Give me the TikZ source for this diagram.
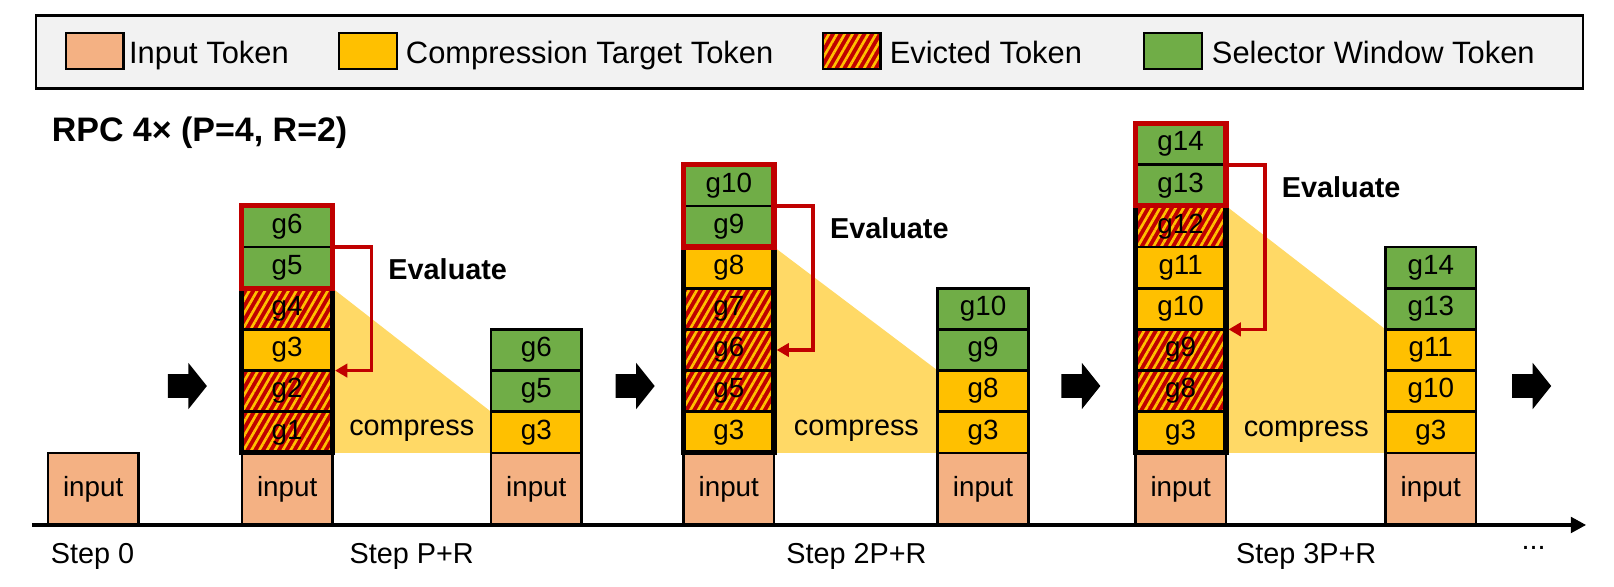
\documentclass[tikz,border=0pt]{standalone}
\usepackage{fontspec}
\setmainfont{Liberation Sans}
\usetikzlibrary{arrows.meta,patterns.meta,backgrounds,positioning}

\definecolor{inputc}{HTML}{F4B183}
\definecolor{targetc}{HTML}{FFC000}
\definecolor{selc}{HTML}{70AD47}
\definecolor{evictc}{HTML}{C00000}
\definecolor{comprc}{HTML}{FFD966}
\definecolor{legbg}{HTML}{F2F2F2}

\tikzset{
  cell/.style={draw=black, line width=1.3pt, minimum width=44pt, minimum height=20pt,
    inner sep=0pt, outer sep=0pt, font=\fontsize{13.5}{16}\selectfont},
  inp/.style={cell, fill=inputc, minimum height=35pt},
  tgt/.style={cell, fill=targetc},
  sel/.style={cell, fill=selc},
  evc/.style={cell, preaction={fill=evictc},
    pattern={Lines[angle=60,distance=3.3pt,line width=1.3pt]}, pattern color=targetc},
  swatch/.style={line width=1.1pt, minimum width=28pt, minimum height=17.5pt},
  legtxt/.style={anchor=base west, inner sep=0pt, font=\fontsize{15}{18}\selectfont},
  selframe/.style={draw=evictc, line width=2.5pt},
  cmpframe/.style={draw=black, line width=2.5pt},
  evalarrow/.style={draw=evictc, line width=1.8pt, shorten >=1.25pt,
    -{Triangle[length=6pt,width=6.5pt]}},
  evaltxt/.style={anchor=base west, inner sep=0pt, font=\bfseries\fontsize{14}{17}\selectfont},
  lbl/.style={anchor=base, font=\fontsize{14}{17}\selectfont},
  axis/.style={line width=2pt, -{Triangle[length=7.5pt,width=7.5pt]}},
}

\begin{document}
\begin{tikzpicture}[x=0.5pt,y=-0.5pt]
  \useasboundingbox (0,0) rectangle (1568,570);

  % legend
  \draw[fill=legbg, line width=1.1pt] (35,15) rectangle (1538,86);
  \node[inp, swatch] (k1) at (92,49.5) {};
  \node[legtxt] (t1) at (125,61.5) {Input Token};
  \node[tgt, swatch] (k2) at (357.5,49.5) {};
  \node[legtxt] (t2) at (394,61.5) {Compression Target Token};
  \node[evc, swatch] (k3) at (827.5,49.5) {};
  \node[legtxt] (t3) at (864,61.5) {Evicted Token};
  \node[sel, swatch] (k4) at (1139.5,49.5) {};
  \node[legtxt] (t4) at (1177,61.5) {Selector Window Token};

  \node[anchor=base west, inner sep=0pt, font=\bfseries\fontsize{16.5}{20}\selectfont] (title)
    at (50,137) {RPC 4× (P=4, R=2)};

  % step 0
  \node[inp] (in0) at (90.5,475) {input};

  % step P+R
  \node[inp] (in1) at (279,475) {input};
  \foreach \st/\lab [count=\i] in {evc/g1,evc/g2,tgt/g3,evc/g4,sel/g5,sel/g6}
    \node[\st] (s1c\i) at (279,{460-40*\i}) {\lab};
  \node[inp] (in2) at (521,475) {input};
  \foreach \st/\lab [count=\i] in {tgt/g3,sel/g5,sel/g6}
    \node[\st] (s2c\i) at (521,{460-40*\i}) {\lab};

  % step 2P+R
  \node[inp] (in3) at (708,475) {input};
  \foreach \st/\lab [count=\i] in {tgt/g3,evc/g5,evc/g6,evc/g7,tgt/g8,sel/g9,sel/g10}
    \node[\st] (s3c\i) at (708,{460-40*\i}) {\lab};
  \node[inp] (in4) at (955,475) {input};
  \foreach \st/\lab [count=\i] in {tgt/g3,tgt/g8,sel/g9,sel/g10}
    \node[\st] (s4c\i) at (955,{460-40*\i}) {\lab};

  % step 3P+R
  \node[inp] (in5) at (1147,475) {input};
  \foreach \st/\lab [count=\i] in {tgt/g3,evc/g8,evc/g9,tgt/g10,tgt/g11,evc/g12,sel/g13,sel/g14}
    \node[\st] (s5c\i) at (1147,{460-40*\i}) {\lab};
  \node[inp] (in6) at (1390,475) {input};
  \foreach \st/\lab [count=\i] in {tgt/g3,tgt/g10,tgt/g11,sel/g13,sel/g14}
    \node[\st] (s6c\i) at (1390,{460-40*\i}) {\lab};

  % compress areas
  \begin{scope}[on background layer]
    \fill[comprc] (s1c4.north east) -- (s2c1.north west) -- (s2c1.south west) -- (s1c1.south east) -- cycle;
    \fill[comprc] (s3c5.north east) -- (s4c2.north west) -- (s4c1.south west) -- (s3c1.south east) -- cycle;
    \fill[comprc] (s5c6.north east) -- (s6c3.north west) -- (s6c1.south west) -- (s5c1.south east) -- cycle;
  \end{scope}
  \node[lbl] (cp1) at (400,423) {compress};
  \node[lbl] (cp2) at (832,423) {compress};
  \node[lbl] (cp3) at (1269,424) {compress};

  % frames
  \draw[cmpframe] (s1c1.south west) rectangle (s1c4.north east);
  \draw[selframe] (s1c5.south west) rectangle (s1c6.north east);
  \draw[cmpframe] (s3c1.south west) rectangle (s3c5.north east);
  \draw[selframe] (s3c6.south west) rectangle (s3c7.north east);
  \draw[cmpframe] (s5c1.south west) rectangle (s5c6.north east);
  \draw[selframe] (s5c7.south west) rectangle (s5c8.north east);

  % evaluate
  \draw[evalarrow] (s1c5.north east) -- ++(38,0) coordinate (e1) |- (s1c3.south east);
  \node[evaltxt] (ev1) at ([shift={(16,32)}]e1) {Evaluate};
  \draw[evalarrow] (s3c6.north east) -- ++(38,0) coordinate (e2) |- (s3c3.east);
  \node[evaltxt] (ev2) at ([shift={(16,32)}]e2) {Evaluate};
  \draw[evalarrow] (s5c7.north east) -- ++(38,0) coordinate (e3) |- (s5c4.south east);
  \node[evaltxt] (ev3) at ([shift={(16,32)}]e3) {Evaluate};

  % step arrows
  \foreach \x in {182,617,1050,1488}
    \fill (\x-19,363.5) -- ++(20,0) -- ++(0,-11) -- ++(18,22.5) -- ++(-18,22.5)
      -- ++(0,-11) -- ++(-20,0) -- cycle;

  % time axis
  \coordinate (ax0) at (31,510);
  \coordinate (ax1) at (1541,510);
  \draw[axis] (ax0) -- (ax1);
  \node[lbl] (st0) at (90,547) {Step 0};
  \node[lbl] (st1) at (400,547) {Step P+R};
  \node[lbl] (st2) at (832,547) {Step 2P+R};
  \node[lbl] (st3) at (1269,547) {Step 3P+R};
  \node[lbl] (dots) at (1490,534) {...};
\end{tikzpicture}
\end{document}
